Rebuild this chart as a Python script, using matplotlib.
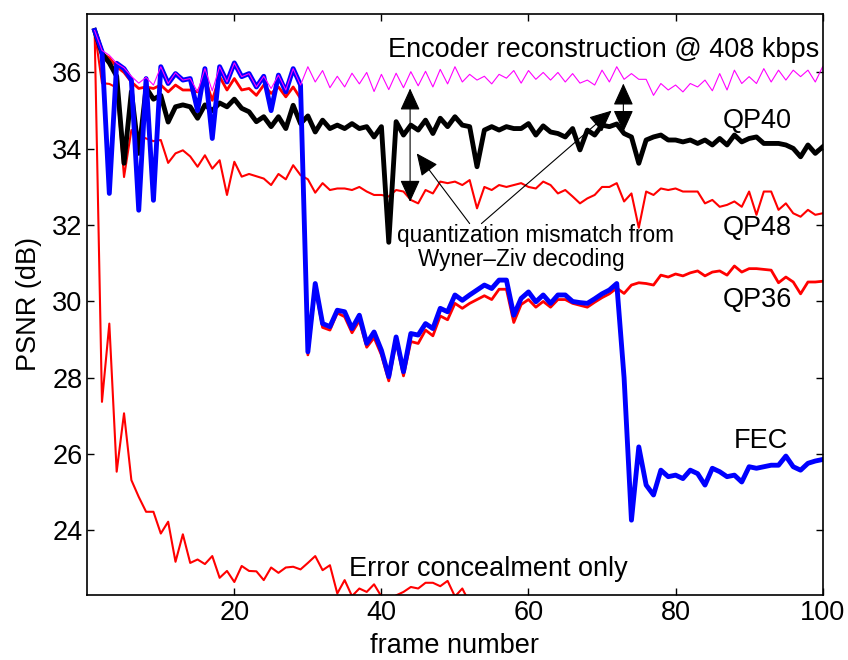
import matplotlib
matplotlib.use('Agg')
import matplotlib.pyplot as plt

plt.rcParams['font.family'] = ['Liberation Sans', 'DejaVu Sans']

frames = list(range(1, 101))

# encoder reconstruction (magenta)
enc = [37.1, 36.58, 36.45, 36.24, 36.12, 35.9, 35.72, 35.87, 35.67, 36.15,
       35.71, 35.99, 35.80, 35.84, 35.49, 36.10, 35.52, 36.15, 35.75, 36.25,
       35.89, 35.97, 35.62, 35.90, 35.58, 35.93, 35.54, 36.10, 35.67, 36.15,
       35.75, 36.05, 35.60, 35.90, 35.62, 35.98, 35.70, 36.00, 35.50, 35.95,
       35.55, 35.98, 35.60, 36.02, 35.65, 36.03, 35.62, 36.08, 35.70, 36.15,
       35.75, 35.95, 35.80, 35.90, 35.70, 35.95, 35.85, 36.05, 35.72, 36.05,
       35.82, 36.00, 35.80, 36.00, 35.75, 35.97, 35.72, 35.80, 35.67, 36.06,
       35.75, 36.15, 35.82, 35.97, 35.82, 35.82, 35.40, 35.71, 35.54, 35.67,
       35.49, 35.71, 35.62, 35.80, 35.52, 35.97, 35.54, 36.06, 35.71, 35.89,
       35.71, 36.10, 35.75, 36.06, 35.80, 36.06, 35.89, 36.06, 35.75, 36.15]

qp40 = [37.1, 36.5, 36.25, 35.9, 33.62, 35.5, 33.88, 35.6, 35.3, 35.4,
        34.7, 35.1, 35.15, 35.1, 34.8, 35.15, 35.0, 35.2, 35.1, 35.3,
        35.06, 34.97, 34.71, 34.84, 34.58, 34.84, 34.53, 35.14, 34.66, 34.86,
        34.44, 34.75, 34.53, 34.62, 34.53, 34.66, 34.53, 34.58, 34.31, 34.58,
        31.55, 34.71, 34.36, 34.62, 34.49, 34.75, 34.40, 34.80, 34.58, 34.84,
        34.62, 34.58, 33.53, 34.49, 34.58, 34.49, 34.58, 34.53, 34.53, 34.66,
        34.36, 34.60, 34.44, 34.40, 34.31, 34.53, 33.97, 34.49, 34.36, 34.62,
        34.58, 34.65, 34.40, 34.31, 33.62, 34.23, 34.31, 34.36, 34.23, 34.23,
        34.18, 34.23, 34.14, 34.23, 34.10, 34.27, 34.10, 34.36, 34.18, 34.27,
        34.31, 34.14, 34.14, 34.14, 34.10, 34.01, 33.79, 34.10, 33.88, 34.05]

qp48 = [37.1, 35.72, 35.7, 35.6, 33.26, 34.49, 34.35, 34.27, 34.2, 34.23,
        33.63, 33.88, 33.96, 33.8, 33.53, 33.83, 33.48, 33.7, 32.79, 33.66,
        33.27, 33.34, 33.28, 33.22, 33.05, 33.34, 33.2, 33.57, 33.31, 33.2,
        32.85, 33.1, 32.92, 32.96, 32.96, 32.92, 33.0, 32.88, 32.79, 32.79,
        32.75, 32.92, 32.88, 32.66, 32.57, 32.92, 32.83, 33.14, 33.1, 33.14,
        33.05, 33.18, 32.44, 33.0, 32.92, 33.05, 33.0, 33.05, 33.1, 33.0,
        32.96, 33.14, 33.05, 32.83, 32.92, 32.75, 32.57, 32.70, 32.79, 33.0,
        33.0, 33.1, 32.62, 32.83, 31.93, 32.88, 32.79, 32.96, 32.92, 32.96,
        32.88, 32.88, 32.88, 32.57, 32.66, 32.48, 32.53, 32.62, 32.48, 32.88,
        32.27, 32.88, 32.88, 32.40, 32.57, 32.31, 32.22, 32.40, 32.27, 32.31]

qp36 = [37.1, 36.5, 36.38, 36.15, 36.0, 35.75, 35.58, 35.62, 35.58, 35.67,
        35.49, 35.67, 35.54, 35.54, 35.49, 35.84, 35.27, 35.89, 35.54, 35.84,
        35.54, 35.58, 35.40, 35.67, 35.45, 35.62, 35.36, 35.62, 35.32, 28.6,
        30.35, 29.32, 29.25, 29.7, 29.6, 29.18, 29.5, 28.8, 29.05, 28.6,
        27.92, 28.95, 28.05, 28.95, 28.9, 29.25, 29.1, 29.62, 29.52, 29.95,
        29.82, 29.95, 30.05, 30.15, 30.05, 30.32, 30.32, 29.45, 29.92, 30.05,
        29.85, 30.0, 29.85, 30.05, 30.05, 29.95, 29.9, 29.85, 29.98, 30.1,
        30.2, 30.35, 30.21, 30.43, 30.49, 30.47, 30.43, 30.69, 30.64, 30.72,
        30.67, 30.75, 30.8, 30.67, 30.77, 30.8, 30.69, 30.93, 30.77, 30.86,
        30.86, 30.84, 30.82, 30.49, 30.64, 30.51, 30.2, 30.51, 30.51, 30.53]

fec = [37.1, 36.55, 32.83, 36.24, 36.1, 35.8, 32.39, 35.84, 32.65, 36.15,
       35.71, 35.97, 35.8, 35.84, 35.0, 36.1, 34.27, 36.15, 35.75, 36.25,
       35.89, 35.97, 35.62, 35.9, 35.0, 35.93, 35.49, 36.1, 35.67, 28.68,
       30.47, 29.42, 29.34, 29.77, 29.73, 29.29, 29.64, 28.9, 29.2, 28.72,
       28.03, 29.07, 28.16, 29.16, 29.12, 29.42, 29.29, 29.82, 29.73, 30.17,
       30.03, 30.17, 30.3, 30.43, 30.34, 30.56, 30.56, 29.64, 30.08, 30.25,
       29.99, 30.17, 29.95, 30.17, 30.17, 30.0, 29.97, 29.95, 30.07, 30.2,
       30.3, 30.47, 28.0, 24.27, 26.19, 25.19, 24.93, 25.58, 25.41, 25.45,
       25.36, 25.58, 25.49, 25.19, 25.63, 25.54, 25.41, 25.45, 25.27, 25.67,
       25.63, 25.67, 25.71, 25.71, 25.95, 25.67, 25.58, 25.76, 25.82, 25.86]

conceal = [37.1, 27.37, 29.42, 25.54, 27.07, 25.32, 24.88, 24.49, 24.49, 23.92,
           24.23, 23.18, 23.9, 23.15, 23.24, 23.12, 23.33, 22.76, 22.94, 22.65,
           23.07, 22.94, 22.93, 22.7, 23.03, 22.89, 23.03, 23.05, 22.98, 23.15,
           23.33, 22.96, 23.09, 22.35, 22.7, 22.28, 22.48, 22.39, 22.59, 22.27,
           22.1, 22.3, 22.39, 22.52, 22.48, 22.63, 22.63, 22.54, 22.68, 22.27,
           22.48, 22.1, 22.0, 21.9, 22.1, 21.95, 21.8, 22.0, 21.9, 21.85,
           21.9, 22.0, 21.8, 21.9, 21.85, 21.95, 21.8, 21.7, 21.9, 21.8,
           21.85, 21.75, 21.8, 21.9, 21.7, 21.8, 21.75, 21.85, 21.7, 21.8,
           21.75, 21.7, 21.8, 21.65, 21.7, 21.8, 21.7, 21.75, 21.6, 21.7,
           21.65, 21.7, 21.6, 21.7, 21.65, 21.6, 21.7, 21.6, 21.65, 21.6]

fig = plt.figure(figsize=(8.48, 6.6), dpi=100)
ax = fig.add_axes([0.1029, 0.0985, 0.8672, 0.8808])

ax.plot(frames, conceal, color='red', lw=1.5)
ax.plot(frames, qp48, color='red', lw=1.5)
ax.plot(frames, qp36, color='red', lw=2.0)
ax.plot(frames, qp40, color='black', lw=3.5)
ax.plot(frames, fec, color='blue', lw=3.5)
ax.plot(frames, enc, color='magenta', lw=0.8)

ax.set_xlim(0, 100)
ax.set_ylim(22.31, 37.54)
ax.set_xticks([20, 40, 60, 80, 100])
ax.set_yticks([24, 26, 28, 30, 32, 34, 36])
ax.tick_params(direction='in', length=5, width=1, labelsize=19.5, top=True, right=True)
for s in ax.spines.values():
    s.set_linewidth(1.2)
ax.set_xlabel('frame number', fontsize=19.5, labelpad=5)
ax.set_ylabel('PSNR (dB)', fontsize=19.5, labelpad=7)

fs = 19.5
ax.text(99.6, 36.58, 'Encoder reconstruction @ 408 kbps', fontsize=fs, ha='right', va='center')
ax.text(91.1, 34.72, 'QP40', fontsize=fs, ha='center', va='center')
ax.text(91.1, 31.92, 'QP48', fontsize=fs, ha='center', va='center')
ax.text(91.1, 30.03, 'QP36', fontsize=fs, ha='center', va='center')
ax.text(91.6, 26.34, 'FEC', fontsize=fs, ha='center', va='center')
ax.text(54.5, 23.0, 'Error concealment only', fontsize=fs, ha='center', va='center')
ax.text(61.0, 31.72, 'quantization mismatch from', fontsize=16.3, ha='center', va='center')
ax.text(59.0, 31.09, 'Wyner\u2013Ziv decoding', fontsize=16.3, ha='center', va='center')

dbl = dict(arrowstyle='<|-|>,head_length=0.55,head_width=0.25', color='black',
           lw=0.8, mutation_scale=25, shrinkA=0, shrinkB=0)
ax.annotate('', xy=(43.9, 35.58), xytext=(43.9, 32.61), arrowprops=dbl)
ax.annotate('', xy=(72.9, 35.71), xytext=(72.9, 34.44), arrowprops=dbl)

one = dict(arrowstyle='-|>,head_length=0.55,head_width=0.25', color='black',
           lw=0.8, mutation_scale=25, shrinkA=0, shrinkB=0)
ax.annotate('', xy=(44.8, 33.88), xytext=(52.0, 32.04), arrowprops=one)
ax.annotate('', xy=(71.3, 35.0), xytext=(53.6, 32.04), arrowprops=one)

fig.savefig('out.png', dpi=100)
